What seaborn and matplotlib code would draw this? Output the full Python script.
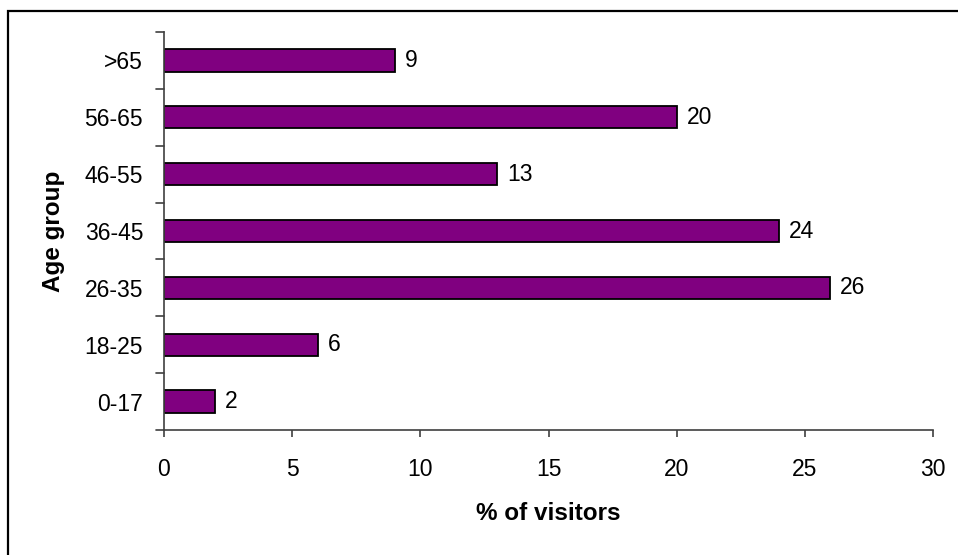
import matplotlib
matplotlib.use("Agg")
import matplotlib.pyplot as plt
import matplotlib.patches as mpatches
import seaborn as sns
import pandas as pd

# data
age_groups = [">65", "56-65", "46-55", "36-45", "26-35", "18-25", "0-17"]
visitors_pct = [9, 20, 13, 24, 26, 6, 2]
x_ticks = [0, 5, 10, 15, 20, 25, 30]

df = pd.DataFrame({"age": age_groups, "pct": visitors_pct})

sns.set_style("white")
plt.rcParams["font.family"] = ["Liberation Sans", "DejaVu Sans"]
plt.rcParams["text.color"] = "black"
plt.rcParams["axes.labelcolor"] = "black"
plt.rcParams["xtick.color"] = "black"
plt.rcParams["ytick.color"] = "black"

FS = 16.5
LFS = 17.5

fig = plt.figure(figsize=(9.58, 5.55), dpi=100)
ax = fig.add_axes([164 / 958, (555 - 430) / 555, (933 - 164) / 958, (430 - 32) / 555])

sns.barplot(data=df, x="pct", y="age", orient="h", color="#800080",
            width=0.39, edgecolor="black", linewidth=1.3, saturation=1, ax=ax)

for c in ax.containers:
    ax.bar_label(c, padding=7, fontsize=FS)

ax.set_xlim(0, 30)
ax.set_ylim(len(age_groups) - 0.5, -0.5)
ax.set_xticks(x_ticks)
ax.set_xticklabels([str(t) for t in x_ticks], fontsize=FS)
ax.tick_params(axis="x", bottom=True, length=5, width=1.2, color="#404040",
               labelcolor="black", pad=15)

# category ticks sit on the boundaries between bars
ax.set_yticks(range(len(age_groups)))
ax.set_yticklabels(age_groups, fontsize=FS)
ax.tick_params(axis="y", length=0, pad=15, labelcolor="black")
for b in [i - 0.5 for i in range(len(age_groups) + 1)]:
    ax.plot([-0.31, 0], [b, b], color="#404040", lw=1.2, clip_on=False)

for s in ["top", "right"]:
    ax.spines[s].set_visible(False)
for s in ["left", "bottom"]:
    ax.spines[s].set_color("#404040")
    ax.spines[s].set_linewidth(1.2)

ax.set_xlabel("% of visitors", fontsize=LFS, fontweight="bold", labelpad=15)
ax.set_ylabel("Age group", fontsize=LFS, fontweight="bold", labelpad=14)

# outer frame (only top and left edges visible in the reference)
fig.patches.append(mpatches.Rectangle((8 / 958, -0.2), 1.2, (555 - 11) / 555 + 0.2,
                                      transform=fig.transFigure, fill=False,
                                      edgecolor="black", linewidth=1.6))

fig.savefig("out.png", dpi=100)
